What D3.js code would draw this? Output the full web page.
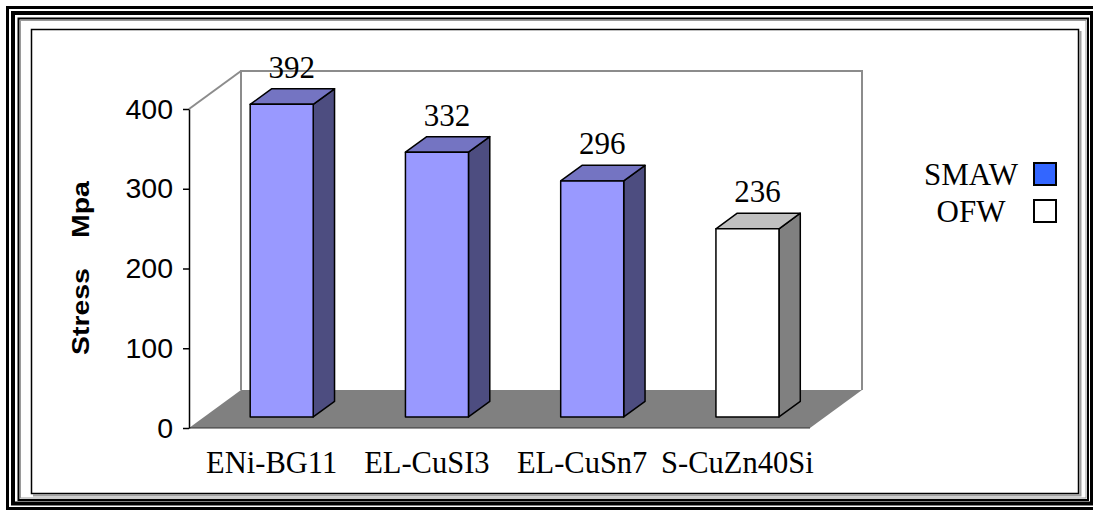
<!DOCTYPE html>
<html>
<head>
<meta charset="utf-8">
<script src="https://cdn.jsdelivr.net/npm/d3@7"></script>
<style>
  html, body { margin: 0; padding: 0; background: #fff; overflow: hidden; }
  svg { display: block; }
</style>
</head>
<body>
<svg id="chart" width="1093" height="512"></svg>
<script>
// ---- data ----
const categories = ["ENi-BG11", "EL-CuSI3", "EL-CuSn7", "S-CuZn40Si"];
const seriesNames = ["SMAW", "OFW"];
const smawValues = [392, 332, 296, null];
const ofwValues = [null, null, null, 236];
const yTicks = [0, 100, 200, 300, 400];
const yTitleWords = ["Stress", "Mpa"];

// ---- styles ----
const serif = "'Times New Roman', 'Liberation Serif', serif";
const sans = "Arial, 'Liberation Sans', sans-serif";
const seriesStyle = {
  SMAW: { front: "#9999ff", top: "#7474c2", side: "#4d4d80", key: "#3366ff" },
  OFW:  { front: "#ffffff", top: "#c0c0c0", side: "#808080", key: "#ffffff" }
};

const svg = d3.select("#chart");

// ---- decorative frame ----
const frame = svg.append("g").attr("fill", "none");
frame.append("rect").attr("x", 7.5).attr("y", 7.5).attr("width", 1095).attr("height", 501)
  .attr("stroke", "#000").attr("stroke-width", 3);
frame.append("rect").attr("x", 13).attr("y", 13).attr("width", 1079).attr("height", 490.5)
  .attr("stroke", "#000").attr("stroke-width", 4);
frame.append("rect").attr("x", 18.5).attr("y", 18.5).attr("width", 1069.5).attr("height", 481.5)
  .attr("stroke", "#000").attr("stroke-width", 2);
frame.append("rect").attr("x", 20.5).attr("y", 20.5).attr("width", 1065.5).attr("height", 477.5)
  .attr("stroke", "#9a9a9a").attr("stroke-width", 1);
// inner chart area with a soft shadow
frame.append("path").attr("d", "M1080.5,31 V495.5 H33")
  .attr("stroke", "#a0a0a0").attr("stroke-width", 2);
frame.append("rect").attr("x", 31.5).attr("y", 29.5).attr("width", 1047).attr("height", 464)
  .attr("stroke", "#000").attr("stroke-width", 1.5);

// ---- plot geometry ----
const x0 = 189, x1 = 810;          // front plane horizontal extent
const depthX = 52, depthY = 38;    // oblique depth offset of the whole plot box
const barD0 = 0.29, barD1 = 0.70;  // depth fraction of bar front / back faces

const x = d3.scaleBand().domain(categories).range([x0, x1])
  .paddingInner(0.594).paddingOuter(0.297);
const y = d3.scaleLinear().domain([0, 400]).range([428, 109]);

const yMin = y(0), yMax = y(d3.max(yTicks));

// floor
svg.append("polygon")
  .attr("points", [[x0, yMin], [x1, yMin], [x1 + depthX, yMin - depthY], [x0 + depthX, yMin - depthY]].join(" "))
  .attr("fill", "#808080");
svg.append("line").attr("x1", x0).attr("x2", x1).attr("y1", yMin).attr("y2", yMin)
  .attr("stroke", "#333").attr("stroke-width", 1.2);

// back wall and side wall edges
svg.append("polyline")
  .attr("points", [[x0 + depthX, yMin - depthY], [x0 + depthX, yMax - depthY],
                   [x1 + depthX, yMax - depthY], [x1 + depthX, yMin - depthY]].join(" "))
  .attr("fill", "none").attr("stroke", "#8c8c8c").attr("stroke-width", 2);
svg.append("line")
  .attr("x1", x0).attr("y1", yMax).attr("x2", x0 + depthX).attr("y2", yMax - depthY)
  .attr("stroke", "#8c8c8c").attr("stroke-width", 2);

// y axis
const yAxis = svg.append("g").attr("transform", `translate(${x0},0)`)
  .call(d3.axisLeft(y).tickValues(yTicks).tickSize(6).tickSizeOuter(0).tickPadding(10).tickFormat(d3.format("d")));
yAxis.select(".domain").attr("stroke", "#000").attr("stroke-width", 1.5);
yAxis.selectAll(".tick line").attr("stroke", "#000").attr("stroke-width", 1.5);
yAxis.selectAll(".tick text").attr("font-family", sans).attr("font-size", 28.5).attr("fill", "#000");

// y axis title
const yTitle = svg.append("text")
  .attr("transform", "translate(89,355) rotate(-90) scale(1.16,1)")
  .attr("font-family", sans).attr("font-weight", "bold").attr("font-size", 24.5).attr("fill", "#000");
yTitle.append("tspan").text(yTitleWords[0]);
yTitle.append("tspan").attr("dx", 26).text(yTitleWords[1]);

// ---- bars ----
const barData = categories.map((c, i) => {
  const s = smawValues[i] != null ? "SMAW" : "OFW";
  const v = s === "SMAW" ? smawValues[i] : ofwValues[i];
  return { cat: c, series: s, value: v };
});

const bw = x.bandwidth();
const dx0 = depthX * barD0, dy0 = -depthY * barD0;
const ddx = depthX * (barD1 - barD0), ddy = -depthY * (barD1 - barD0);

const bars = svg.append("g").selectAll("g").data(barData).join("g")
  .attr("stroke", "#000").attr("stroke-width", 1.5).attr("stroke-linejoin", "round");

bars.each(function(d) {
  const g = d3.select(this);
  const st = seriesStyle[d.series];
  const fl = x(d.cat) + dx0, fr = fl + bw;
  const ft = y(d.value) + dy0, fb = y(0) + dy0;
  g.append("polygon").attr("fill", st.side)
    .attr("points", [[fr, ft], [fr + ddx, ft + ddy], [fr + ddx, fb + ddy], [fr, fb]].join(" "));
  g.append("polygon").attr("fill", st.top)
    .attr("points", [[fl, ft], [fr, ft], [fr + ddx, ft + ddy], [fl + ddx, ft + ddy]].join(" "));
  g.append("rect").attr("fill", st.front)
    .attr("x", fl).attr("y", ft).attr("width", bw).attr("height", fb - ft);
});

// value labels
svg.append("g").selectAll("text").data(barData).join("text")
  .attr("x", d => x(d.cat) + dx0 + bw / 2 + 10)
  .attr("y", d => y(d.value) + dy0 + ddy - 11)
  .attr("text-anchor", "middle")
  .attr("font-family", serif).attr("font-size", 31).attr("fill", "#000")
  .text(d => d.value);

// category labels
svg.append("g").selectAll("text").data(categories).join("text")
  .attr("x", d => x(d) + bw / 2 + 5)
  .attr("y", 473)
  .attr("text-anchor", "middle")
  .attr("font-family", serif).attr("font-size", 30.5).attr("fill", "#000")
  .text(d => d);

// ---- legend ----
const legend = svg.append("g").selectAll("g").data(seriesNames).join("g")
  .attr("transform", (d, i) => `translate(0,${i * 37})`);
legend.append("text")
  .attr("x", 971).attr("y", 185)
  .attr("text-anchor", "middle")
  .attr("font-family", serif).attr("font-size", 31).attr("fill", "#000")
  .text(d => d);
legend.append("rect")
  .attr("x", 1034).attr("y", 163).attr("width", 22).attr("height", 22)
  .attr("fill", d => seriesStyle[d].key)
  .attr("stroke", "#000").attr("stroke-width", 2);
</script>
</body>
</html>
